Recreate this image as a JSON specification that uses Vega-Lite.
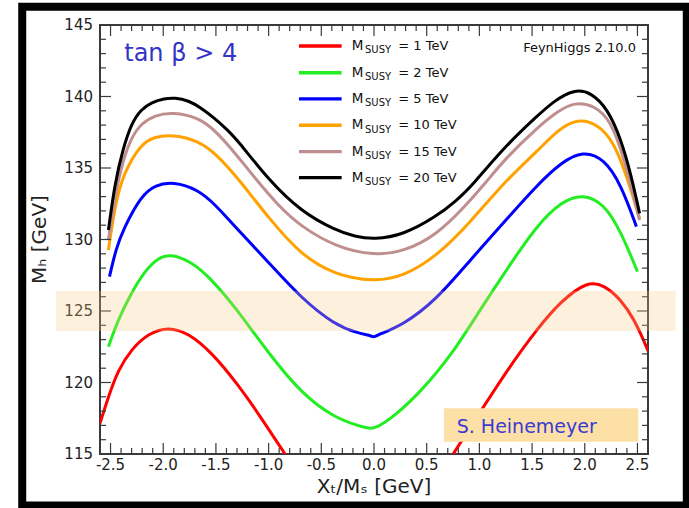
{
  "$schema": "https://vega.github.io/schema/vega-lite/v6.json",
  "width": 548,
  "height": 429,
  "autosize": "none",
  "padding": {"left": 100, "top": 25, "right": 41, "bottom": 54},
  "background": "white",
  "config": {
    "view": {"stroke": "#3a3a3a", "strokeWidth": 2},
    "font": "DejaVu Sans"
  },
  "datasets": {
    "curves": [
      {"s":1,"x":-2.6,"y":117.15},{"s":1,"x":-2.52,"y":119.0},{"s":1,"x":-2.43,"y":120.85},{"s":1,"x":-2.3,"y":122.35},{"s":1,"x":-2.14,"y":123.45},{"s":1,"x":-1.95,"y":123.9},{"s":1,"x":-1.76,"y":123.45},{"s":1,"x":-1.54,"y":122.1},{"s":1,"x":-1.3,"y":119.95},{"s":1,"x":-1.066,"y":117.5},{"s":1,"x":-0.83,"y":114.8},{"s":1,"x":-0.5,"y":111.3},{"s":1,"x":0,"y":109.2},{"s":1,"x":0.45,"y":111.5},{"s":1,"x":0.733,"y":114.8},{"s":1,"x":1.0,"y":117.85},{"s":1,"x":1.285,"y":121.1},{"s":1,"x":1.553,"y":123.79},{"s":1,"x":1.775,"y":125.7},{"s":1,"x":2.03,"y":127.1},{"s":1,"x":2.185,"y":126.8},{"s":1,"x":2.343,"y":125.8},{"s":1,"x":2.47,"y":124.4},{"s":1,"x":2.565,"y":122.85},{"s":1,"x":2.6,"y":122.2},
      {"s":2,"x":-2.52,"y":122.5},{"s":2,"x":-2.43,"y":124.37},{"s":2,"x":-2.3,"y":126.3},{"s":2,"x":-2.17,"y":127.85},{"s":2,"x":-2.05,"y":128.7},{"s":2,"x":-1.94,"y":129.0},{"s":2,"x":-1.73,"y":128.45},{"s":2,"x":-1.54,"y":127.2},{"s":2,"x":-1.32,"y":125.3},{"s":2,"x":-1.0,"y":122.04},{"s":2,"x":-0.69,"y":119.24},{"s":2,"x":-0.37,"y":117.5},{"s":2,"x":-0.12,"y":116.91},{"s":2,"x":-0.03,"y":116.75},{"s":2,"x":0.03,"y":116.9},{"s":2,"x":0.149,"y":117.38},{"s":2,"x":0.433,"y":119.24},{"s":2,"x":0.748,"y":122.04},{"s":2,"x":1.0,"y":125.0},{"s":2,"x":1.285,"y":128.2},{"s":2,"x":1.553,"y":131.05},{"s":2,"x":1.78,"y":132.65},{"s":2,"x":1.98,"y":133.2},{"s":2,"x":2.185,"y":132.5},{"s":2,"x":2.343,"y":130.55},{"s":2,"x":2.5,"y":127.75},
      {"s":5,"x":-2.51,"y":127.4},{"s":5,"x":-2.45,"y":129.3},{"s":5,"x":-2.38,"y":130.7},{"s":5,"x":-2.21,"y":133.05},{"s":5,"x":-2.08,"y":133.8},{"s":5,"x":-1.906,"y":134.05},{"s":5,"x":-1.67,"y":133.5},{"s":5,"x":-1.5,"y":132.4},{"s":5,"x":-1.29,"y":130.66},{"s":5,"x":-1.0,"y":128.4},{"s":5,"x":-0.69,"y":125.89},{"s":5,"x":-0.37,"y":124.02},{"s":5,"x":-0.15,"y":123.45},{"s":5,"x":-0.04,"y":123.3},{"s":5,"x":0,"y":123.15},{"s":5,"x":0.04,"y":123.35},{"s":5,"x":0.275,"y":124.02},{"s":5,"x":0.59,"y":125.77},{"s":5,"x":0.906,"y":128.5},{"s":5,"x":1.238,"y":131.25},{"s":5,"x":1.553,"y":133.85},{"s":5,"x":1.78,"y":135.4},{"s":5,"x":1.98,"y":136.2},{"s":5,"x":2.185,"y":135.65},{"s":5,"x":2.343,"y":133.85},{"s":5,"x":2.49,"y":130.9},
      {"s":10,"x":-2.52,"y":129.27},{"s":10,"x":-2.46,"y":132.3},{"s":10,"x":-2.38,"y":134.6},{"s":10,"x":-2.21,"y":136.7},{"s":10,"x":-2.08,"y":137.2},{"s":10,"x":-1.906,"y":137.32},{"s":10,"x":-1.67,"y":136.9},{"s":10,"x":-1.5,"y":136.0},{"s":10,"x":-1.29,"y":134.28},{"s":10,"x":-1.0,"y":131.5},{"s":10,"x":-0.69,"y":128.9},{"s":10,"x":-0.37,"y":127.52},{"s":10,"x":0,"y":127.05},{"s":10,"x":0.275,"y":127.4},{"s":10,"x":0.59,"y":128.8},{"s":10,"x":0.906,"y":131.13},{"s":10,"x":1.238,"y":134.04},{"s":10,"x":1.553,"y":136.2},{"s":10,"x":1.75,"y":137.7},{"s":10,"x":1.93,"y":138.45},{"s":10,"x":2.12,"y":138.1},{"s":10,"x":2.28,"y":136.8},{"s":10,"x":2.405,"y":134.28},{"s":10,"x":2.52,"y":131.48},
      {"s":15,"x":-2.52,"y":129.97},{"s":15,"x":-2.46,"y":133.0},{"s":15,"x":-2.38,"y":135.6},{"s":15,"x":-2.3,"y":137.15},{"s":15,"x":-2.21,"y":138.1},{"s":15,"x":-2.08,"y":138.7},{"s":15,"x":-1.91,"y":138.9},{"s":15,"x":-1.67,"y":138.55},{"s":15,"x":-1.5,"y":137.6},{"s":15,"x":-1.29,"y":135.79},{"s":15,"x":-1.13,"y":134.3},{"s":15,"x":-0.9,"y":132.3},{"s":15,"x":-0.69,"y":130.9},{"s":15,"x":-0.37,"y":129.5},{"s":15,"x":0,"y":128.85},{"s":15,"x":0.3,"y":129.2},{"s":15,"x":0.59,"y":130.31},{"s":15,"x":0.85,"y":132.2},{"s":15,"x":1.064,"y":134.0},{"s":15,"x":1.238,"y":135.6},{"s":15,"x":1.553,"y":137.85},{"s":15,"x":1.75,"y":139.0},{"s":15,"x":1.9,"y":139.6},{"s":15,"x":2.09,"y":139.4},{"s":15,"x":2.25,"y":138.3},{"s":15,"x":2.374,"y":135.68},{"s":15,"x":2.52,"y":131.36},
      {"s":20,"x":-2.52,"y":130.66},{"s":20,"x":-2.46,"y":133.9},{"s":20,"x":-2.38,"y":136.4},{"s":20,"x":-2.3,"y":138.15},{"s":20,"x":-2.21,"y":139.1},{"s":20,"x":-2.11,"y":139.6},{"s":20,"x":-1.99,"y":139.86},{"s":20,"x":-1.89,"y":139.92},{"s":20,"x":-1.76,"y":139.72},{"s":20,"x":-1.64,"y":139.2},{"s":20,"x":-1.51,"y":138.47},{"s":20,"x":-1.39,"y":137.66},{"s":20,"x":-1.29,"y":136.9},{"s":20,"x":-1.0,"y":134.16},{"s":20,"x":-0.69,"y":131.94},{"s":20,"x":-0.37,"y":130.66},{"s":20,"x":-0.18,"y":130.2},{"s":20,"x":0,"y":130.0},{"s":20,"x":0.275,"y":130.31},{"s":20,"x":0.59,"y":131.6},{"s":20,"x":0.78,"y":132.7},{"s":20,"x":0.94,"y":133.85},{"s":20,"x":1.24,"y":136.49},{"s":20,"x":1.55,"y":138.65},{"s":20,"x":1.71,"y":139.7},{"s":20,"x":1.9,"y":140.5},{"s":20,"x":2.06,"y":140.3},{"s":20,"x":2.22,"y":139.1},{"s":20,"x":2.34,"y":137.08},{"s":20,"x":2.44,"y":134.51},{"s":20,"x":2.52,"y":131.83}
    ],
    "legend": [
      {"s":1,"ly":143.53,"label":"= 1 TeV"},
      {"s":2,"ly":141.66,"label":"= 2 TeV"},
      {"s":5,"ly":139.83,"label":"= 5 TeV"},
      {"s":10,"ly":137.99,"label":"= 10 TeV"},
      {"s":15,"ly":136.14,"label":"= 15 TeV"},
      {"s":20,"ly":134.32,"label":"= 20 TeV"}
    ],
    "xticks": [
      {"v":-2.5,"k":"major"},{"v":-2.4,"k":"minor"},{"v":-2.3,"k":"minor"},{"v":-2.2,"k":"minor"},{"v":-2.1,"k":"minor"},
      {"v":-2.0,"k":"major"},{"v":-1.9,"k":"minor"},{"v":-1.8,"k":"minor"},{"v":-1.7,"k":"minor"},{"v":-1.6,"k":"minor"},
      {"v":-1.5,"k":"major"},{"v":-1.4,"k":"minor"},{"v":-1.3,"k":"minor"},{"v":-1.2,"k":"minor"},{"v":-1.1,"k":"minor"},
      {"v":-1.0,"k":"major"},{"v":-0.9,"k":"minor"},{"v":-0.8,"k":"minor"},{"v":-0.7,"k":"minor"},{"v":-0.6,"k":"minor"},
      {"v":-0.5,"k":"major"},{"v":-0.4,"k":"minor"},{"v":-0.3,"k":"minor"},{"v":-0.2,"k":"minor"},{"v":-0.1,"k":"minor"},
      {"v":0.0,"k":"major"},{"v":0.1,"k":"minor"},{"v":0.2,"k":"minor"},{"v":0.3,"k":"minor"},{"v":0.4,"k":"minor"},
      {"v":0.5,"k":"major"},{"v":0.6,"k":"minor"},{"v":0.7,"k":"minor"},{"v":0.8,"k":"minor"},{"v":0.9,"k":"minor"},
      {"v":1.0,"k":"major"},{"v":1.1,"k":"minor"},{"v":1.2,"k":"minor"},{"v":1.3,"k":"minor"},{"v":1.4,"k":"minor"},
      {"v":1.5,"k":"major"},{"v":1.6,"k":"minor"},{"v":1.7,"k":"minor"},{"v":1.8,"k":"minor"},{"v":1.9,"k":"minor"},
      {"v":2.0,"k":"major"},{"v":2.1,"k":"minor"},{"v":2.2,"k":"minor"},{"v":2.3,"k":"minor"},{"v":2.4,"k":"minor"},
      {"v":2.5,"k":"major"}
    ],
    "yticks": [
      {"v":115,"k":"major"},{"v":116,"k":"minor"},{"v":117,"k":"minor"},{"v":118,"k":"minor"},{"v":119,"k":"minor"},
      {"v":120,"k":"major"},{"v":121,"k":"minor"},{"v":122,"k":"minor"},{"v":123,"k":"minor"},{"v":124,"k":"minor"},
      {"v":125,"k":"major"},{"v":126,"k":"minor"},{"v":127,"k":"minor"},{"v":128,"k":"minor"},{"v":129,"k":"minor"},
      {"v":130,"k":"major"},{"v":131,"k":"minor"},{"v":132,"k":"minor"},{"v":133,"k":"minor"},{"v":134,"k":"minor"},
      {"v":135,"k":"major"},{"v":136,"k":"minor"},{"v":137,"k":"minor"},{"v":138,"k":"minor"},{"v":139,"k":"minor"},
      {"v":140,"k":"major"},{"v":141,"k":"minor"},{"v":142,"k":"minor"},{"v":143,"k":"minor"},{"v":144,"k":"minor"},
      {"v":145,"k":"major"}
    ],
    "xlabels": [
      {"v":-2.5,"lab":"-2.5"},{"v":-2.0,"lab":"-2.0"},{"v":-1.5,"lab":"-1.5"},{"v":-1.0,"lab":"-1.0"},{"v":-0.5,"lab":"-0.5"},
      {"v":0.0,"lab":"0.0"},{"v":0.5,"lab":"0.5"},{"v":1.0,"lab":"1.0"},{"v":1.5,"lab":"1.5"},{"v":2.0,"lab":"2.0"},{"v":2.5,"lab":"2.5"}
    ],
    "ylabels": [
      {"v":115,"lab":"115"},{"v":120,"lab":"120"},{"v":125,"lab":"125"},{"v":130,"lab":"130"},{"v":135,"lab":"135"},{"v":140,"lab":"140"},{"v":145,"lab":"145"}
    ]
  },
  "layer": [
    {
      "data": {"name": "curves"},
      "mark": {"type": "line", "strokeWidth": 3, "interpolate": "basis", "clip": true},
      "encoding": {
        "x": {"field": "x", "type": "quantitative", "scale": {"domain": [-2.6, 2.6], "nice": false, "zero": false}, "axis": null},
        "y": {"field": "y", "type": "quantitative", "scale": {"domain": [115, 145], "nice": false, "zero": false}, "axis": null},
        "color": {
          "field": "s", "type": "nominal",
          "scale": {"domain": [1, 2, 5, 10, 15, 20], "range": ["#ff0000", "#22ee22", "#0000ff", "#ffa200", "#bf8f8f", "#000000"]},
          "legend": null
        }
      }
    },
    {
      "data": {"name": "xticks"},
      "mark": {"type": "tick", "orient": "vertical", "clip": true, "color": "#3a3a3a", "thickness": 1.2, "opacity": 1},
      "encoding": {
        "x": {"field": "v", "type": "quantitative", "axis": null},
        "y": {"datum": 115, "type": "quantitative", "axis": null},
        "size": {"field": "k", "type": "nominal", "scale": {"domain": ["major", "minor"], "range": [22, 12]}, "legend": null}
      }
    },
    {
      "data": {"name": "xticks"},
      "mark": {"type": "tick", "orient": "vertical", "clip": true, "color": "#3a3a3a", "thickness": 1.2, "opacity": 1},
      "encoding": {
        "x": {"field": "v", "type": "quantitative", "axis": null},
        "y": {"datum": 145, "type": "quantitative", "axis": null},
        "size": {"field": "k", "type": "nominal", "legend": null}
      }
    },
    {
      "data": {"name": "yticks"},
      "mark": {"type": "tick", "orient": "horizontal", "clip": true, "color": "#3a3a3a", "thickness": 1.2, "opacity": 1},
      "encoding": {
        "y": {"field": "v", "type": "quantitative", "axis": null},
        "x": {"datum": -2.6, "type": "quantitative", "axis": null},
        "size": {"field": "k", "type": "nominal", "legend": null}
      }
    },
    {
      "data": {"name": "yticks"},
      "mark": {"type": "tick", "orient": "horizontal", "clip": true, "color": "#3a3a3a", "thickness": 1.2, "opacity": 1},
      "encoding": {
        "y": {"field": "v", "type": "quantitative", "axis": null},
        "x": {"datum": 2.6, "type": "quantitative", "axis": null},
        "size": {"field": "k", "type": "nominal", "legend": null}
      }
    },
    {
      "data": {"name": "xlabels"},
      "mark": {"type": "text", "align": "center", "baseline": "top", "dy": 4, "font": "DejaVu Sans", "fontSize": 15, "color": "#222"},
      "encoding": {
        "x": {"field": "v", "type": "quantitative", "axis": null},
        "y": {"datum": 115, "type": "quantitative", "axis": null},
        "text": {"field": "lab"}
      }
    },
    {
      "data": {"name": "ylabels"},
      "mark": {"type": "text", "align": "right", "baseline": "middle", "dx": -7, "font": "DejaVu Sans", "fontSize": 15, "color": "#222"},
      "encoding": {
        "x": {"datum": -2.6, "type": "quantitative", "axis": null},
        "y": {"field": "v", "type": "quantitative", "axis": null},
        "text": {"field": "lab"}
      }
    },
    {
      "data": {"values": [{"t": "Xₜ/Mₛ [GeV]"}]},
      "mark": {"type": "text", "align": "center", "baseline": "top", "dy": 23, "font": "DejaVu Sans", "fontSize": 20, "color": "#222"},
      "encoding": {
        "x": {"datum": 0, "type": "quantitative", "axis": null},
        "y": {"datum": 115, "type": "quantitative", "axis": null},
        "text": {"field": "t"}
      }
    },
    {
      "data": {"values": [{"t": "Mₕ [GeV]"}]},
      "mark": {"type": "text", "align": "center", "baseline": "middle", "angle": 270, "font": "DejaVu Sans", "fontSize": 20, "color": "#222"},
      "encoding": {
        "x": {"datum": -3.17, "type": "quantitative", "axis": null},
        "y": {"datum": 130, "type": "quantitative", "axis": null},
        "text": {"field": "t"}
      }
    },
    {
      "data": {"values": [{}]},
      "mark": {"type": "rect", "fill": "#f8c880", "opacity": 0.28, "clip": false},
      "encoding": {
        "x": {"datum": -3.018, "type": "quantitative", "axis": null},
        "x2": {"datum": 2.863},
        "y": {"datum": 123.6, "type": "quantitative", "axis": null},
        "y2": {"datum": 126.4}
      }
    },
    {
      "data": {"values": [{}]},
      "mark": {"type": "rect", "fill": "#fde0a6"},
      "encoding": {
        "x": {"datum": 0.664, "type": "quantitative", "axis": null},
        "x2": {"datum": 2.508},
        "y": {"datum": 115.86, "type": "quantitative", "axis": null},
        "y2": {"datum": 118.2}
      }
    },
    {
      "data": {"values": [{"t": "S. Heinemeyer"}]},
      "mark": {"type": "text", "align": "left", "baseline": "alphabetic", "font": "DejaVu Sans", "fontSize": 19, "color": "#3b3bd4"},
      "encoding": {
        "x": {"datum": 0.785, "type": "quantitative", "axis": null},
        "y": {"datum": 116.45, "type": "quantitative", "axis": null},
        "text": {"field": "t"}
      }
    },
    {
      "data": {"values": [{"t": "tan β > 4"}]},
      "mark": {"type": "text", "align": "left", "baseline": "alphabetic", "font": "DejaVu Sans", "fontSize": 24, "color": "#3333c8"},
      "encoding": {
        "x": {"datum": -2.37, "type": "quantitative", "axis": null},
        "y": {"datum": 142.45, "type": "quantitative", "axis": null},
        "text": {"field": "t"}
      }
    },
    {
      "data": {"values": [{"t": "FeynHiggs 2.10.0"}]},
      "mark": {"type": "text", "align": "right", "baseline": "alphabetic", "font": "DejaVu Sans", "fontSize": 13, "color": "#111"},
      "encoding": {
        "x": {"datum": 2.486, "type": "quantitative", "axis": null},
        "y": {"datum": 143.11, "type": "quantitative", "axis": null},
        "text": {"field": "t"}
      }
    },
    {
      "data": {"name": "legend"},
      "mark": {"type": "rule", "strokeWidth": 3.3},
      "encoding": {
        "x": {"datum": -0.712, "type": "quantitative", "axis": null},
        "x2": {"datum": -0.307},
        "y": {"field": "ly", "type": "quantitative", "axis": null},
        "color": {"field": "s", "type": "nominal", "legend": null}
      }
    },
    {
      "data": {"name": "legend"},
      "mark": {"type": "text", "align": "left", "baseline": "alphabetic", "dy": 4, "font": "DejaVu Sans", "fontSize": 13.5, "color": "#111"},
      "encoding": {
        "x": {"datum": -0.212, "type": "quantitative", "axis": null},
        "y": {"field": "ly", "type": "quantitative", "axis": null},
        "text": {"value": "M"}
      }
    },
    {
      "data": {"name": "legend"},
      "mark": {"type": "text", "align": "left", "baseline": "alphabetic", "dy": 7.3, "font": "DejaVu Sans", "fontSize": 10, "color": "#111"},
      "encoding": {
        "x": {"datum": -0.0854, "type": "quantitative", "axis": null},
        "y": {"field": "ly", "type": "quantitative", "axis": null},
        "text": {"value": "SUSY"}
      }
    },
    {
      "data": {"name": "legend"},
      "mark": {"type": "text", "align": "left", "baseline": "alphabetic", "dy": 4, "font": "DejaVu Sans", "fontSize": 13, "color": "#111"},
      "encoding": {
        "x": {"datum": 0.2306, "type": "quantitative", "axis": null},
        "y": {"field": "ly", "type": "quantitative", "axis": null},
        "text": {"field": "label"}
      }
    },
    {
      "data": {"values": [{}]},
      "mark": {"type": "rect", "fillOpacity": 0, "stroke": "#000", "strokeWidth": 8, "clip": false},
      "encoding": {
        "x": {"datum": -3.338, "type": "quantitative", "axis": null},
        "x2": {"datum": 2.968},
        "y": {"datum": 111.4, "type": "quantitative", "axis": null},
        "y2": {"datum": 146.28}
      }
    }
  ]
}
